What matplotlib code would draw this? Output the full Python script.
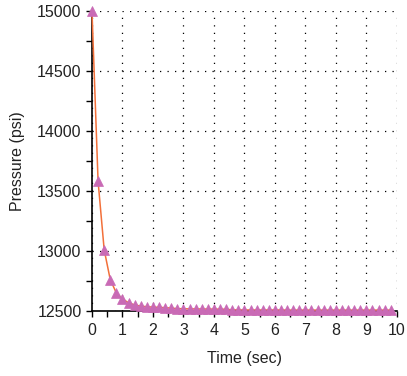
import matplotlib
matplotlib.use("Agg")
import matplotlib.pyplot as plt
from matplotlib.ticker import MultipleLocator

plt.rcParams["font.family"] = ["Liberation Sans", "DejaVu Sans"]

# sampled decay of pressure after shut-in
time_sec = [0.0, 0.2, 0.4, 0.6, 0.8, 1.0, 1.2, 1.4, 1.6, 1.8,
            2.0, 2.2, 2.4, 2.6, 2.8, 3.0, 3.2, 3.4, 3.6, 3.8,
            4.0, 4.2, 4.4, 4.6, 4.8, 5.0, 5.2, 5.4, 5.6, 5.8,
            6.0, 6.2, 6.4, 6.6, 6.8, 7.0, 7.2, 7.4, 7.6, 7.8,
            8.0, 8.2, 8.4, 8.6, 8.8, 9.0, 9.2, 9.4, 9.6, 9.8]
pressure_psi = [15000, 13580, 13010, 12760, 12650, 12600, 12568, 12550, 12540, 12535,
                12532, 12530, 12527, 12524, 12519, 12518, 12517, 12517, 12516, 12516,
                12515, 12515, 12514, 12509, 12509, 12508, 12508, 12508, 12508, 12508,
                12508, 12508, 12507, 12507, 12507, 12507, 12507, 12507, 12507, 12507,
                12507, 12507, 12507, 12507, 12507, 12507, 12507, 12507, 12507, 12507]

fig = plt.figure(figsize=(4.07, 3.76), dpi=100)
ax = fig.add_axes([0.226, 0.173, 0.749, 0.798])

ax.plot(time_sec, pressure_psi, color="#F2703A", linewidth=1.1, zorder=3,
        marker="^", markersize=6.5, markerfacecolor="#C96AB5",
        markeredgecolor="#C96AB5", markeredgewidth=0.5, clip_on=False)

ax.set_xlim(0, 10)
ax.set_ylim(12500, 15000)
ax.xaxis.set_major_locator(MultipleLocator(1))
ax.xaxis.set_minor_locator(MultipleLocator(0.5))
ax.yaxis.set_major_locator(MultipleLocator(500))
ax.yaxis.set_minor_locator(MultipleLocator(250))
ax.tick_params(which="both", direction="out", length=4, width=1, color="black",
               labelsize=11.5, labelcolor="#222222")
ax.tick_params(axis="x", pad=5)

for side in ("top", "right"):
    ax.spines[side].set_visible(False)
for side in ("left", "bottom"):
    ax.spines[side].set_linewidth(1.2)
    ax.spines[side].set_color("black")

ax.grid(True, which="major", color="black", linestyle=(0, (1, 5)), linewidth=0.9)

ax.set_xlabel("Time (sec)", fontsize=11.5, color="#222222", labelpad=9)
ax.set_ylabel("Pressure (psi)", fontsize=11.5, color="#222222", labelpad=9)

fig.savefig("out.png", dpi=100)
